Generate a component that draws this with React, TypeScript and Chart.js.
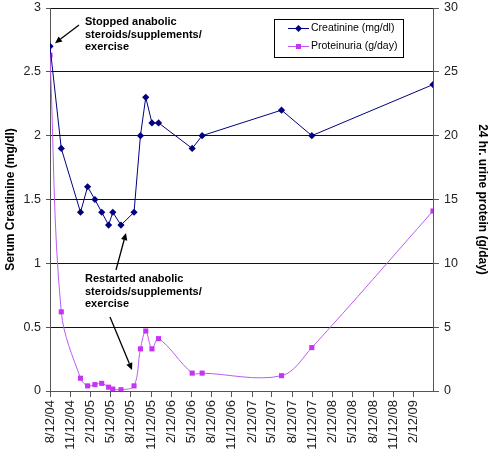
import React, { useEffect, useRef } from "react";
import { Chart, registerables } from "chart.js";

Chart.register(...registerables);

// ---------- data ----------
const sampleDates = [
  "8/12/04", "10/2/04", "12/28/04", "1/29/05", "3/3/05", "4/3/05", "5/4/05",
  "5/23/05", "6/29/05", "8/27/05", "9/25/05", "10/19/05", "11/16/05", "12/16/05",
  "5/17/06", "7/1/06", "6/25/07", "11/9/07", "5/10/09",
];
const creatinine = [2.7, 1.9, 1.4, 1.6, 1.5, 1.4, 1.3, 1.4, 1.3, 1.4, 2.0, 2.3, 2.1, 2.1, 1.9, 2.0, 2.2, 2.0, 2.4];
const proteinuria = [26.3, 6.2, 1.0, 0.4, 0.5, 0.6, 0.3, 0.15, 0.1, 0.4, 3.3, 4.7, 3.3, 4.1, 1.4, 1.4, 1.2, 3.4, 14.1];
const xTickLabels = [
  "8/12/04", "11/12/04", "2/12/05", "5/12/05", "8/12/05", "11/12/05", "2/12/06",
  "5/12/06", "8/12/06", "11/12/06", "2/12/07", "5/12/07", "8/12/07", "11/12/07",
  "2/12/08", "5/12/08", "8/12/08", "11/12/08", "2/12/09",
];
const leftTickLabels = ["0", "0.5", "1", "1.5", "2", "2.5", "3"];
const rightTickLabels = ["0", "5", "10", "15", "20", "25", "30"];
const seriesNames = ["Creatinine (mg/dl)", "Proteinuria (g/day)"];
const leftTitle = "Serum Creatinine (mg/dl)";
const rightTitle = "24 hr. urine protein (g/day)";
const noteStopped = ["Stopped anabolic", "steroids/supplements/", "exercise"];
const noteRestarted = ["Restarted anabolic", "steroids/supplements/", "exercise"];

// ---------- helpers ----------
const toUTC = (s: string) => {
  const [m, d, y] = s.split("/").map(Number);
  return Date.UTC(2000 + y, m - 1, d);
};
const BASE = toUTC(sampleDates[0]);
const toDay = (s: string) => Math.round((toUTC(s) - BASE) / 86400000);
const xDays = sampleDates.map(toDay);
const tickDays = xTickLabels.map(toDay);

const FONT = "'Liberation Sans', Arial, Helvetica, sans-serif";
const NAVY = "#000080";
const MAG_PT = "#C633F5";
const MAG_LINE = "#BA5CF2";

function arrow(ctx: CanvasRenderingContext2D, x1: number, y1: number, x2: number, y2: number) {
  const ang = Math.atan2(y2 - y1, x2 - x1);
  const hl = 7;
  const hw = 3.2;
  const bx = x2 - hl * Math.cos(ang);
  const by = y2 - hl * Math.sin(ang);
  ctx.save();
  ctx.strokeStyle = "#000";
  ctx.fillStyle = "#000";
  ctx.lineWidth = 1.3;
  ctx.beginPath();
  ctx.moveTo(x1, y1);
  ctx.lineTo(bx, by);
  ctx.stroke();
  ctx.beginPath();
  ctx.moveTo(x2, y2);
  ctx.lineTo(bx + hw * Math.sin(ang), by - hw * Math.cos(ang));
  ctx.lineTo(bx - hw * Math.sin(ang), by + hw * Math.cos(ang));
  ctx.closePath();
  ctx.fill();
  ctx.restore();
}

const overlayPlugin = {
  id: "overlay",
  afterDraw(chart: any) {
    const ctx: CanvasRenderingContext2D = chart.ctx;
    const xs = chart.scales.x;
    const yl = chart.scales.y;
    const yr = chart.scales.y1;

    // annotations text
    ctx.save();
    ctx.fillStyle = "#000";
    ctx.font = `bold 11px ${FONT}`;
    ctx.textBaseline = "middle";
    ctx.textAlign = "left";
    noteStopped.forEach((t, i) => ctx.fillText(t, 85, 22 + i * 12.7));
    noteRestarted.forEach((t, i) => ctx.fillText(t, 85, 279 + i * 12.7));
    ctx.restore();

    // arrows anchored to data points
    const p0x = xs.getPixelForValue(xDays[0]);
    const p0y = yl.getPixelForValue(creatinine[0]);
    arrow(ctx, 79, 25, p0x + 5, p0y - 3);
    const p8x = xs.getPixelForValue(xDays[8]);
    const p8y = yl.getPixelForValue(creatinine[8]);
    arrow(ctx, 116, 270, p8x + 5, p8y + 8);
    const p9x = xs.getPixelForValue(xDays[9]);
    const p9y = yr.getPixelForValue(proteinuria[9]);
    arrow(ctx, 110, 317, p9x - 2, p9y - 16);

    // legend
    const lx = 274, ly = 19, lw = 129, lh = 38;
    ctx.save();
    ctx.fillStyle = "#fff";
    ctx.fillRect(lx, ly, lw, lh);
    ctx.strokeStyle = "#000";
    ctx.lineWidth = 1;
    ctx.strokeRect(lx + 0.5, ly + 0.5, lw, lh);
    const rows = [
      { y: 28.5, color: NAVY, ptColor: NAVY, style: "diamond" },
      { y: 46.5, color: MAG_LINE, ptColor: MAG_PT, style: "square" },
    ];
    rows.forEach((r, i) => {
      ctx.strokeStyle = r.color;
      ctx.lineWidth = 1;
      ctx.beginPath();
      ctx.moveTo(288, r.y);
      ctx.lineTo(309, r.y);
      ctx.stroke();
      ctx.fillStyle = r.ptColor;
      ctx.beginPath();
      if (r.style === "diamond") {
        ctx.moveTo(298.5, r.y - 3.5);
        ctx.lineTo(302, r.y);
        ctx.lineTo(298.5, r.y + 3.5);
        ctx.lineTo(295, r.y);
        ctx.closePath();
      } else {
        ctx.rect(296, r.y - 2.5, 5, 5);
      }
      ctx.fill();
      ctx.fillStyle = "#000";
      ctx.font = `10.5px ${FONT}`;
      ctx.textBaseline = "middle";
      ctx.textAlign = "left";
      ctx.fillText(seriesNames[i], 311, r.y);
    });
    ctx.restore();
  },
};

export default function App() {
  const ref = useRef<HTMLCanvasElement | null>(null);

  useEffect(() => {
    document.body.style.margin = "0";
    if (!ref.current) return;
    Chart.defaults.font.family = FONT;
    const chart = new Chart(ref.current, {
      type: "line",
      data: {
        datasets: [
          {
            label: seriesNames[0],
            data: xDays.map((x, i) => ({ x, y: creatinine[i] })),
            yAxisID: "y",
            borderColor: NAVY,
            backgroundColor: NAVY,
            borderWidth: 1,
            pointStyle: "rectRot",
            pointRadius: 3.6,
            pointBorderWidth: 0,
            pointBackgroundColor: NAVY,
            tension: 0,
          },
          {
            label: seriesNames[1],
            data: xDays.map((x, i) => ({ x, y: proteinuria[i] })),
            yAxisID: "y1",
            borderColor: MAG_LINE,
            backgroundColor: MAG_PT,
            borderWidth: 1,
            pointStyle: "rect",
            pointRadius: 3.6,
            pointBorderWidth: 0,
            pointBackgroundColor: MAG_PT,
            tension: 0.35,
          },
        ],
      },
      options: {
        responsive: false,
        animation: false,
        devicePixelRatio: 1,
        layout: { padding: 0 },
        plugins: { legend: { display: false }, tooltip: { enabled: false } },
        scales: {
          x: {
            type: "linear",
            min: 0,
            max: xDays[xDays.length - 1],
            afterBuildTicks: (scale: any) => {
              scale.ticks = tickDays.map((v) => ({ value: v }));
            },
            afterFit: (scale: any) => {
              scale.height = 61;
            },
            ticks: {
              autoSkip: false,
              maxRotation: 90,
              minRotation: 90,
              padding: 3,
              color: "#222",
              font: { size: 13 },
              callback: (_v: any, i: number) => xTickLabels[i],
            },
            grid: { drawOnChartArea: false, drawTicks: true, tickLength: 6, color: "#555" },
            border: { color: "#555", width: 1 },
          },
          y: {
            position: "left",
            min: 0,
            max: 3,
            afterFit: (scale: any) => {
              scale.width = 50;
              scale.paddingTop = 8;
              scale.paddingBottom = 0;
            },
            ticks: {
              stepSize: 0.5,
              padding: 5,
              color: "#222",
              font: { size: 12.5 },
              callback: (_v: any, i: number) => leftTickLabels[i],
            },
            grid: { color: "#111", lineWidth: 1, tickLength: 4, tickColor: "#555" },
            border: { color: "#555", width: 1 },
            title: {
              display: true,
              text: leftTitle,
              color: "#000",
              font: { size: 12, weight: "bold" },
              padding: { top: 3, bottom: 0 },
            },
          },
          y1: {
            position: "right",
            min: 0,
            max: 30,
            afterFit: (scale: any) => {
              scale.width = 59;
              scale.paddingTop = 8;
              scale.paddingBottom = 0;
            },
            ticks: {
              stepSize: 5,
              padding: 5,
              color: "#222",
              font: { size: 12.5 },
              callback: (_v: any, i: number) => rightTickLabels[i],
            },
            grid: { drawOnChartArea: false, tickLength: 6, color: "#555" },
            border: { color: "#555", width: 1 },
            title: {
              display: true,
              text: rightTitle,
              color: "#000",
              font: { size: 12, weight: "bold" },
              padding: { top: 2, bottom: 0 },
            },
          },
        },
      },
      plugins: [overlayPlugin],
    } as any);
    return () => chart.destroy();
  }, []);

  return (
    <div style={{ position: "fixed", left: 0, top: 0, width: 492, height: 452, background: "#fff" }}>
      <canvas ref={ref} width={492} height={452} style={{ width: 492, height: 452, display: "block" }} />
    </div>
  );
}
